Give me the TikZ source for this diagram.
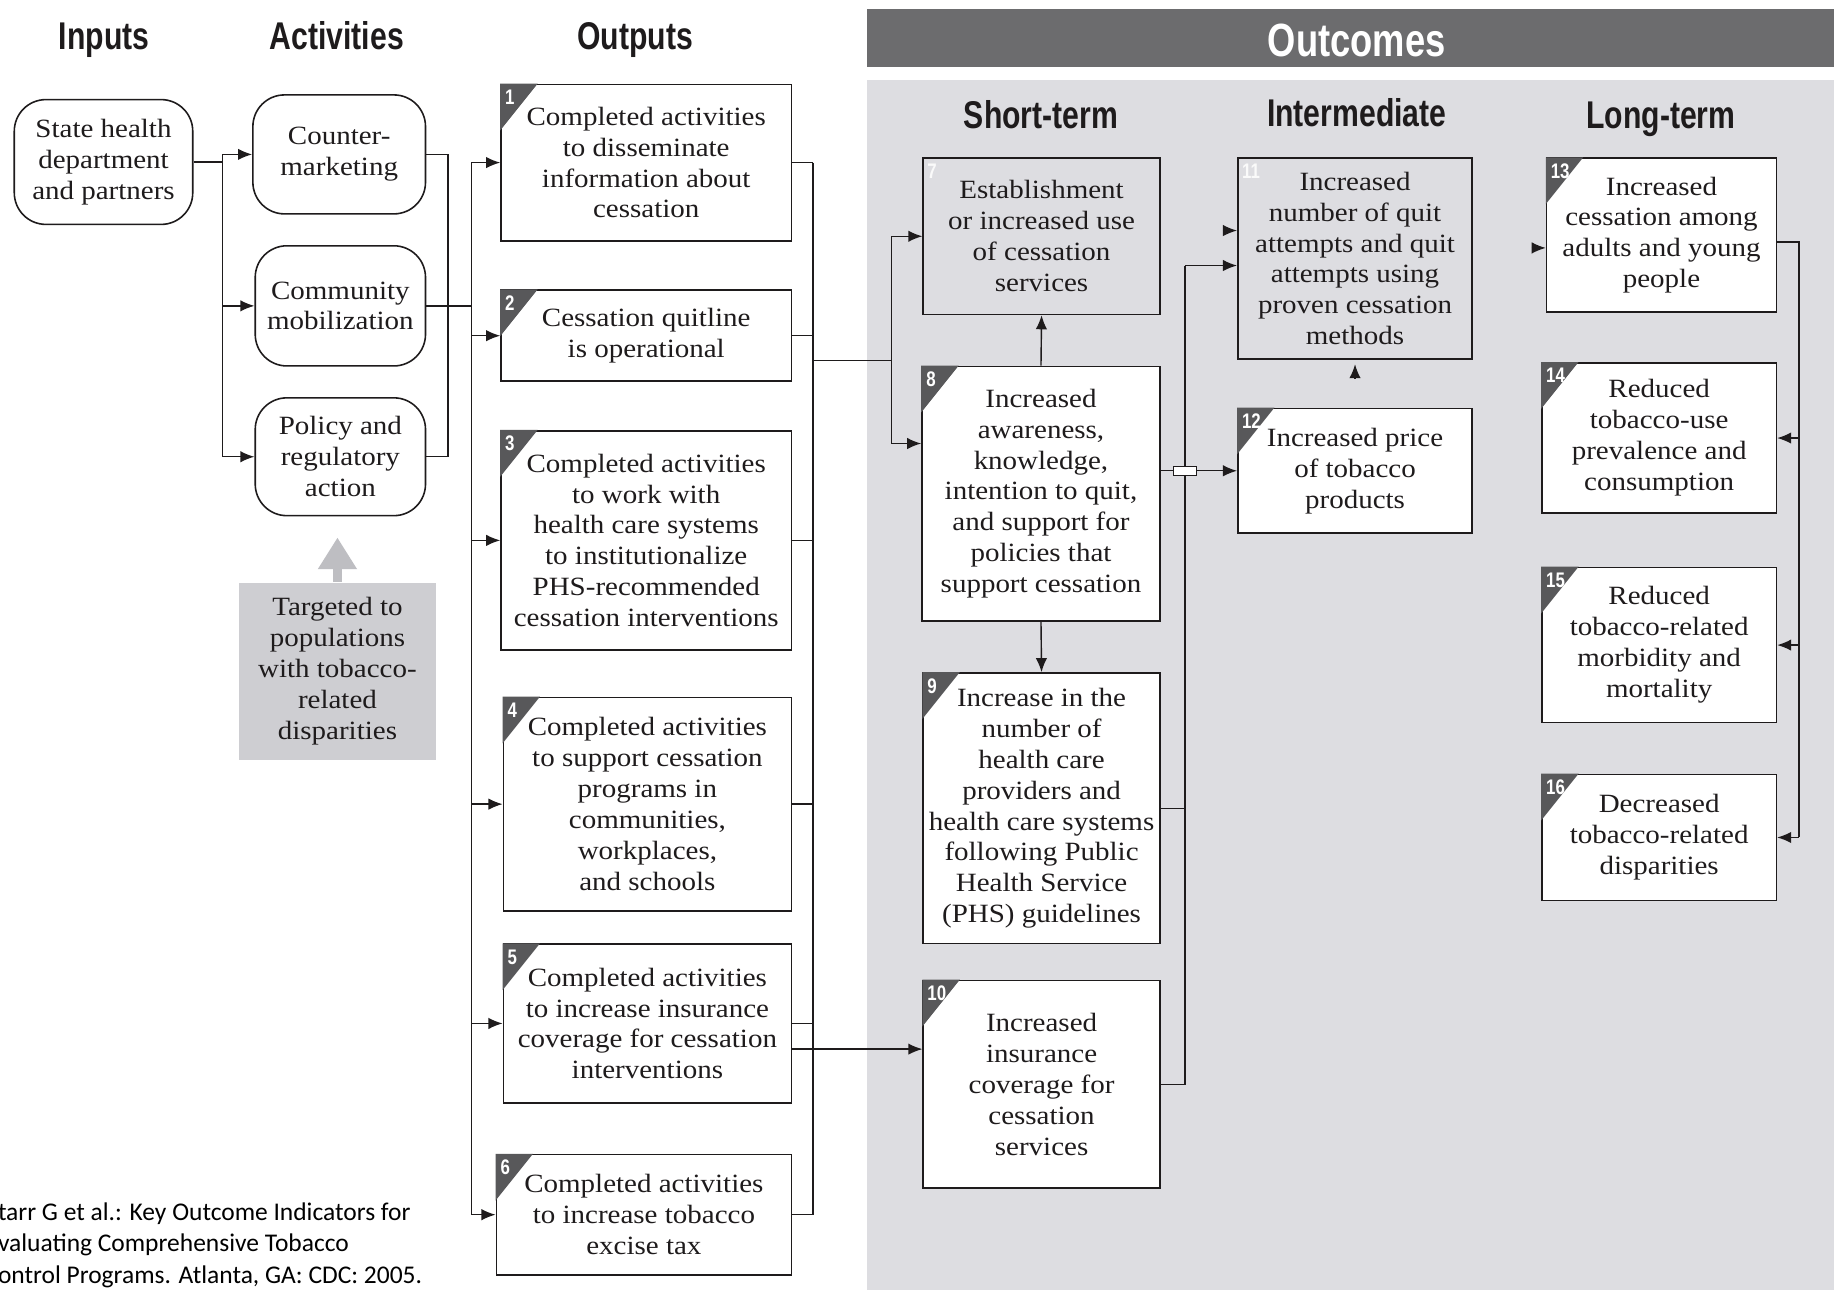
\documentclass[tikz,border=0pt]{standalone}
\usepackage{fontspec}
\setmainfont{Liberation Serif}[FakeStretch=1.1]
\newfontfamily\hdfont{Liberation Sans}[FakeStretch=0.78]
\newfontfamily\numfont{Liberation Sans}[FakeStretch=0.8]
\newfontfamily\citefont{Carlito}
\usetikzlibrary{arrows.meta,calc}
\definecolor{ink}{RGB}{30,27,28}
\definecolor{panelc}{RGB}{221,221,225}
\definecolor{headc}{RGB}{108,108,110}
\definecolor{tabc}{RGB}{88,88,90}
\definecolor{tgtfill}{RGB}{206,206,210}
\definecolor{tgtarrow}{RGB}{190,190,194}
\def\sunit{0.66374pt}
\newcommand{\bodyf}{\fontsize{15}{17.6}\selectfont}
\begin{document}
\begin{tikzpicture}[x=0.023394cm,y=-0.023394cm,
  line/.style={draw=ink, line width=0.8pt},
  arr/.style={line, -{Latex[length=8pt,width=6.5pt]}},
  box/.style={draw=ink, line width=0.9pt, fill=white, inner sep=0pt, align=center, text=ink, font=\bodyf},
  rbox/.style={box, rounded corners=18pt},
  graybox/.style={box, fill=panelc},
  sz/.style 2 args={minimum width=#1*\sunit, minimum height=#2*\sunit},
  head/.style={font={\hdfont\bfseries\fontsize{22}{24}\selectfont}, text=ink, anchor=base, inner sep=0pt},
  num/.style={font={\numfont\bfseries\fontsize{12}{12}\selectfont}, text=white, anchor=north west, inner sep=0pt},
  hop/.style={draw=ink, line width=0.7pt, fill=white, inner sep=0pt, minimum width=20*\sunit, minimum height=8*\sunit}
]
\useasboundingbox (0,0) rectangle (1568,1103);
\fill[white] (0,0) rectangle (1568,1103);

% outcome panel and header
\fill[headc] (741,8) rectangle (1568,57);
\fill[panelc] (741,68) rectangle (1568,1103);

% headings
\node[head] (hin) at (89,42) {Inputs};
\node[head] (hact) at (288,42) {Activities};
\node[head] (hout) at (543,42) {Outputs};
\node[head, text=white, font={\hdfont\bfseries\fontsize{26.5}{28}\selectfont}] (hoc) at (1160,48) {Outcomes};
\node[head] (hst) at (890,110) {Short-term};
\node[head] (him) at (1160,108) {Intermediate};
\node[head] (hlt) at (1420,110) {Long-term};

% inputs / activities
\node[rbox, sz={153}{107}] (input) at (88.5,138.5) {State health\\department\\and partners};
\node[rbox, sz={148}{102}] (cm) at (290,132) {Counter-\\marketing};
\node[rbox, sz={146}{103}] (comm) at (291,261.5) {Community\\mobilization};
\node[rbox, sz={146}{101}] (pol) at (291,390.5) {Policy and\\regulatory\\action};
\node[box, draw=none, fill=tgtfill, sz={169}{152}] (tgt) at (288.5,574) {Targeted to\\populations\\with tobacco-\\related\\disparities};
\draw[draw=tgtarrow, line width=5pt, -{Triangle[length=18pt,width=21pt]}] (tgt.north) -- ++(0,-38);

% outputs
\node[box, sz={249}{134}] (b1) at (552.5,139) {Completed activities\\to disseminate\\information about\\cessation};
\node[box, sz={249}{78}] (b2) at (552.5,287) {Cessation quitline\\is operational};
\node[box, sz={249}{188}] (b3) at (552.5,462) {Completed activities\\to work with\\health care systems\\to institutionalize\\PHS-recommended\\cessation interventions};
\node[box, sz={247}{183}] (b4) at (553.5,687.5) {Completed activities\\to support cessation\\programs in\\communities,\\workplaces,\\and schools};
\node[box, sz={247}{136}] (b5) at (553.5,875) {Completed activities\\to increase insurance\\coverage for cessation\\interventions};
\node[box, sz={253}{103}] (b6) at (550.5,1038.5) {Completed activities\\to increase tobacco\\excise tax};

% outcomes
\node[graybox, sz={203}{134}] (b7) at (890.5,202) {Establishment\\or increased use\\of cessation\\services};
\node[box, sz={204}{218}] (b8) at (890,422) {Increased\\awareness,\\knowledge,\\intention to quit,\\and support for\\policies that\\support cessation};
\node[box, sz={203}{232}] (b9) at (890.5,691) {Increase in the\\number of\\health care\\providers and\\health care systems\\following Public\\Health Service\\(PHS) guidelines};
\node[box, sz={203}{178}] (b10) at (890.5,927) {Increased\\insurance\\coverage for\\cessation\\services};
\node[graybox, sz={201}{172}] (b11) at (1158.5,221) {Increased\\number of quit\\attempts and quit\\attempts using\\proven cessation\\methods};
\node[box, sz={201}{107}] (b12) at (1158.5,402.5) {Increased price\\of tobacco\\products};
\node[box, sz={197}{132}] (b13) at (1420.5,201) {Increased\\cessation among\\adults and young\\people};
\node[box, sz={201}{129}] (b14) at (1418.5,374.5) {Reduced\\tobacco-use\\prevalence and\\consumption};
\node[box, sz={201}{133}] (b15) at (1418.5,551.5) {Reduced\\tobacco-related\\morbidity and\\mortality};
\node[box, sz={201}{108}] (b16) at (1418.5,716) {Decreased\\tobacco-related\\disparities};

% number tabs
\foreach \b/\n in {b1/1,b2/2,b3/3,b4/4,b5/5,b6/6,b8/8,b9/9,b10/10,b12/12,b13/13,b14/14,b15/15,b16/16}{
  \fill[tabc] (\b.north west) -- ++(32,0) -- ++(-32,40) -- cycle;
  \node[num] at ([shift={(4,5)}]\b.north west) {\n};
}
\node[num, text=white!85!panelc] at ([shift={(4,5)}]b7.north west) {7};
\node[num, text=white!85!panelc] at ([shift={(4,5)}]b11.north west) {11};

% bus coordinates
\coordinate (xA) at (190,0);
\coordinate (xB) at (383,0);
\coordinate (xC) at (403,0);
\coordinate (xD) at (695,0);
\coordinate (xE) at (762,0);
\coordinate (xF) at (1013,0);
\coordinate (xG) at (1538,0);

% inputs -> activities
\draw[line] (input.east) -- (input.east -| xA);
\draw[line] (xA |- cm.west) -- (xA |- pol.west);
\foreach \n in {cm,comm,pol} \draw[arr] (xA |- \n.west) -- (\n.west);

% activities -> outputs
\draw[line] (cm.east) -| (xB |- pol.east) -- (pol.east);
\draw[line] (comm.east) -- (comm.east -| xC);
\draw[line] (xC |- b1.west) -- (xC |- b6.west);
\foreach \n in {b1,b2,b3,b4,b5,b6} \draw[arr] (xC |- \n.west) -- (\n.west);

% outputs -> outcomes
\foreach \n in {b1,b2,b3,b4,b5,b6} \draw[line] (\n.east) -- (\n.east -| xD);
\draw[line] (xD |- b1.east) -- (xD |- b6.east);
\coordinate (jo) at (695,308);
\draw[line] (jo) -- (jo -| xE);
\coordinate (a8) at ([yshift=28.5pt]b8.west);
\draw[line] (xE |- b7.west) -- (a8 -| xE);
\draw[arr] (xE |- b7.west) -- (b7.west);
\draw[arr] (a8 -| xE) -- (a8);
\coordinate (a5) at ([yshift=-14.6pt]b5.east);
\draw[arr] (a5) -- (a5 -| b10.west);

% short-term links
\draw[arr] (b8.north) -- (b7.south);
\draw[arr] (b8.south) -- (b9.north);
\draw[arr] (b12.west -| b8.east) -- (b12.west);
\coordinate (a11) at ([yshift=-4pt]b11.west);
\draw[line] (b9.east) -- (b9.east -| xF);
\draw[line] (b10.east) -| (a11 -| xF);
\draw[arr] (a11 -| xF) -- (a11);
\node[hop] (hopn) at (b12.west -| xF) {};

% lone arrowheads
\coordinate (c11) at ([yshift=15.9pt]b11.west);
\draw[arr] ([xshift=-8pt]c11) -- (c11);
\coordinate (c13) at ([yshift=-7.3pt]b13.west);
\draw[arr] ([xshift=-8pt]c13) -- (c13);
\coordinate (d11) at ([yshift=-2.6pt]b11.south);
\draw[arr] ([yshift=-8pt]d11) -- (d11);

% long-term
\coordinate (a13) at ([yshift=-4pt]b13.east);
\draw[line] (a13) -| (xG |- b16.east);
\foreach \n in {b14,b15,b16} \draw[arr] (xG |- \n.east) -- (\n.east);

% citation
\node[font={\citefont\fontsize{14.5}{17.8}\selectfont}, align=left, anchor=north west, inner sep=0pt] (cite) at (-2,1028) {tarr G et al.: Key Outcome Indicators for\\valuating Comprehensive Tobacco\\ontrol Programs. Atlanta, GA: CDC: 2005.};
\end{tikzpicture}
\end{document}
